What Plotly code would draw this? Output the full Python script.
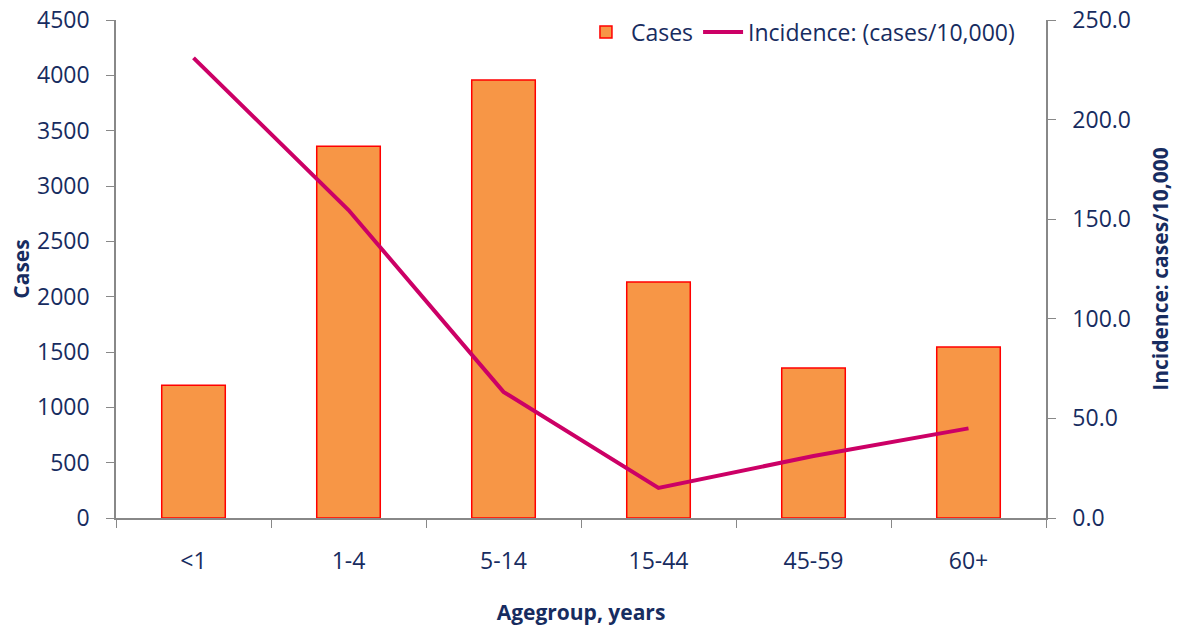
import plotly.graph_objects as go

categories = ["<1", "1-4", "5-14", "15-44", "45-59", "60+"]
cases = [1200, 3360, 3958, 2132, 1355, 1545]
incidence = [231.0, 154.6, 63.3, 15.1, 31.1, 45.0]

NAVY = "#172c60"
FONT = "Open Sans"
TS = 23
AS = 21

fig = go.Figure()
fig.add_trace(go.Bar(
    x=categories, y=cases, name="Cases",
    marker=dict(color="#F79646", line=dict(color="#FF0000", width=1.5)),
    yaxis="y",
))
fig.add_trace(go.Scatter(
    x=categories, y=incidence, name="Incidence: (cases/10,000)",
    mode="lines", line=dict(color="#CC0066", width=4),
    yaxis="y2",
))

fig.update_layout(
    width=1177, height=628,
    margin=dict(l=116, r=131, t=20, b=110, autoexpand=False),
    plot_bgcolor="white", paper_bgcolor="white",
    font=dict(family=FONT, size=TS, color=NAVY),
    bargap=0.59,
    showlegend=True,
    legend=dict(orientation="h", x=0.972, xanchor="right", y=0.976, yanchor="middle",
                font=dict(size=TS, color=NAVY), bgcolor="rgba(0,0,0,0)",
                itemwidth=40, traceorder="normal", tracegroupgap=0),
    xaxis=dict(
        type="category", showline=True, linecolor="#888888", linewidth=1.5,
        ticks="outside", tickson="boundaries", ticklen=8, tickcolor="#888888",
        showgrid=False, tickfont=dict(size=TS, color=NAVY), automargin=False,
        ticklabelstandoff=22,
        title=dict(text="<b>Agegroup, years</b>", font=dict(size=AS, color=NAVY), standoff=30),
    ),
    yaxis=dict(
        range=[0, 4500], dtick=500, showline=True, linecolor="#888888", linewidth=1.5,
        ticks="outside", ticklen=8, tickcolor="#888888", showgrid=False, zeroline=False,
        tickfont=dict(size=TS, color=NAVY), automargin=False, ticklabelstandoff=12,
        ticklabeloverflow="allow",
        title=dict(text="<b>Cases</b>", font=dict(size=AS, color=NAVY), standoff=2),
    ),
    yaxis2=dict(
        range=[0, 250], dtick=50, tickformat=".1f", overlaying="y", side="right",
        showline=True, linecolor="#888888", linewidth=1.5,
        ticks="outside", ticklen=8, tickcolor="#888888", showgrid=False, zeroline=False,
        tickfont=dict(size=TS, color=NAVY), automargin=False, ticklabelstandoff=12,
        ticklabeloverflow="allow",
        title=dict(text="<b>Incidence: cases/10,000</b>", font=dict(size=AS, color=NAVY), standoff=23),
    ),
)

fig.write_html("out.html", config={"displayModeBar": False},
               post_script="document.body.style.margin='0px';document.body.style.overflow='hidden';")
